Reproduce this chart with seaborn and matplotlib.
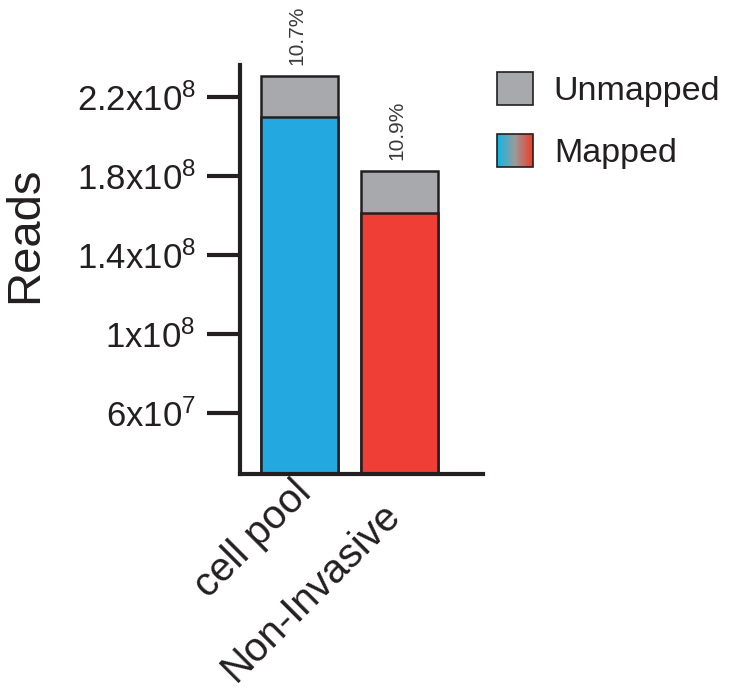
import numpy as np
import pandas as pd
import matplotlib
matplotlib.use("Agg")
import matplotlib.pyplot as plt
import seaborn as sns
from matplotlib.patches import Rectangle
from matplotlib.legend_handler import HandlerBase
from matplotlib.colors import LinearSegmentedColormap
from matplotlib.transforms import offset_copy

# ---- data ----
samples = ["cell pool", "Non-Invasive"]
mapped = [2.099e8, 1.614e8]
unmapped = [2.07e7, 2.11e7]
pct_labels = ["10.7%", "10.9%"]
ytick_values = [6e7, 1e8, 1.4e8, 1.8e8, 2.2e8]
ytick_labels = ["6x10$^{7}$", "1x10$^{8}$", "1.4x10$^{8}$", "1.8x10$^{8}$", "2.2x10$^{8}$"]
legend_labels = ["Unmapped", "Mapped"]

bar_colors = ["#23A8E0", "#EE3E36"]
gray = "#A7A9AC"
edge = "#231F20"

sns.set_theme(style="white")
plt.rcParams["font.family"] = ["Liberation Sans", "DejaVu Sans"]
plt.rcParams["mathtext.fontset"] = "custom"
plt.rcParams["mathtext.rm"] = "Liberation Sans"
plt.rcParams["mathtext.it"] = "Liberation Sans"

df = pd.DataFrame({"sample": samples, "mapped": mapped, "unmapped": unmapped})
df["total"] = df["mapped"] + df["unmapped"]

fig = plt.figure(figsize=(7.32, 6.92), dpi=100)
ax = fig.add_axes([240 / 732, 1 - 474 / 692, (483 - 240) / 732, (474 - 65) / 692])

sns.barplot(data=df, x="sample", y="total", color=gray, width=0.77,
            edgecolor=edge, linewidth=1.8, saturation=1, ax=ax)
sns.barplot(data=df, x="sample", y="mapped", hue="sample", palette=bar_colors,
            width=0.77, edgecolor=edge, linewidth=1.8, saturation=1,
            legend=False, ax=ax)

ax.set_xlim(-0.595, 1.835)
ax.set_ylim(2.93e7, 2.36e8)
ax.set_yticks(ytick_values)
ax.set_yticklabels(ytick_labels, fontsize=25, color="#231F20")
ax.set_xticks([0, 1])
ax.set_xticklabels(["", ""])
ax.tick_params(axis="y", length=24, width=3, color="#231F20", pad=8, left=True)
ax.tick_params(axis="x", length=0)
ax.set_xlabel("")
ax.set_ylabel("")
for s in ["top", "right"]:
    ax.spines[s].set_visible(False)
for s in ["left", "bottom"]:
    ax.spines[s].set_linewidth(3)
    ax.spines[s].set_color("#231F20")

# percentage labels above bars
for i, (tot, lab) in enumerate(zip(df["total"], pct_labels)):
    tr = offset_copy(ax.transData, fig=fig, x=-2, y=8, units="points")
    ax.text(i, tot, lab, rotation=90, ha="center", va="bottom", fontsize=15,
            color="#3a3a3a", transform=tr)

# rotated category labels
offsets = [(4.5, -9), (-3.5, -25.5)]
for i, (lab, (dx, dy)) in enumerate(zip(samples, offsets)):
    tr = offset_copy(ax.get_xaxis_transform(), fig=fig, x=dx, y=dy, units="points")
    ax.text(i, 0, lab, rotation=45, ha="right", va="center", rotation_mode="anchor",
            fontsize=29, color="#231F20", transform=tr)

fig.text(25 / 732, 1 - 235 / 692, "Reads", rotation=90, ha="center", va="center",
         fontsize=34, color="#231F20")

# legend with gradient handle
grad = LinearSegmentedColormap.from_list("g", ["#12B5E3", "#9A9A9A", "#EE3E2A"])


class GradientHandle:
    pass


class HandlerGradient(HandlerBase):
    def create_artists(self, legend, orig_handle, xdescent, ydescent, width, height, fontsize, trans):
        arts = []
        n = 40
        for k in range(n):
            r = Rectangle((-xdescent + width * k / n, -ydescent), width / n + 0.3, height,
                          facecolor=grad(k / (n - 1)), edgecolor="none", transform=trans)
            arts.append(r)
        arts.append(Rectangle((-xdescent, -ydescent), width, height, facecolor="none",
                              edgecolor=edge, linewidth=1.2, transform=trans))
        return arts


h_unmapped = Rectangle((0, 0), 1, 1, facecolor=gray, edgecolor=edge, linewidth=1.2)
h_mapped = GradientHandle()
leg = fig.legend([h_unmapped, h_mapped], legend_labels,
                 handler_map={GradientHandle: HandlerGradient()},
                 loc="upper left", bbox_to_anchor=(497 / 732, 1 - 72 / 692),
                 frameon=False, fontsize=24.5, handlelength=1.05, handleheight=1.12,
                 handletextpad=0.62, labelspacing=0.8, borderpad=0, borderaxespad=0)
for t in leg.get_texts():
    t.set_color("#231F20")

fig.savefig("out.png", dpi=100)
